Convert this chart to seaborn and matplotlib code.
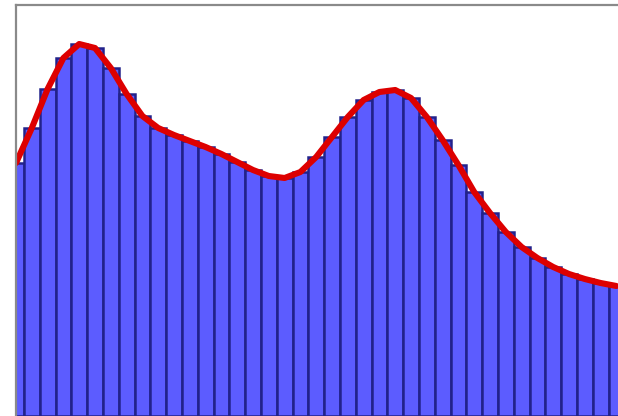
import numpy as np
import matplotlib
matplotlib.use('Agg')
import matplotlib.pyplot as plt
import seaborn as sns

# bar heights (arbitrary units)
bins = list(range(39))
heights = [253, 288, 327, 358, 372, 368, 348, 322, 300, 288,
           281, 275, 269, 262, 254, 246, 240, 238, 244, 259,
           279, 299, 316, 324, 326, 318, 299, 276, 251, 224,
           203, 184, 169, 158, 149, 142, 137, 133, 130]

sns.set_style('white')

fig = plt.figure(figsize=(6.18, 4.16), dpi=100)
ax = fig.add_axes([16 / 618, 0, 606 / 618, 411 / 416])

sns.barplot(x=bins, y=heights, width=1.0, color='#5c5cff', saturation=1,
            edgecolor='#22228a', linewidth=1.8, ax=ax)
sns.lineplot(x=bins, y=heights, color='#dd0000', linewidth=4.4, ax=ax,
             solid_capstyle='round', solid_joinstyle='round')

ax.set_xlim(0, 606 / 15.8)
ax.set_ylim(0, 411)
ax.set_xticks([])
ax.set_yticks([])
ax.set_xlabel('')
ax.set_ylabel('')
for side in ['top', 'left']:
    ax.spines[side].set_color('#8a8a8a')
    ax.spines[side].set_linewidth(1.6)
ax.spines['bottom'].set_visible(False)
ax.spines['right'].set_visible(False)

fig.savefig('out.png', dpi=100)
